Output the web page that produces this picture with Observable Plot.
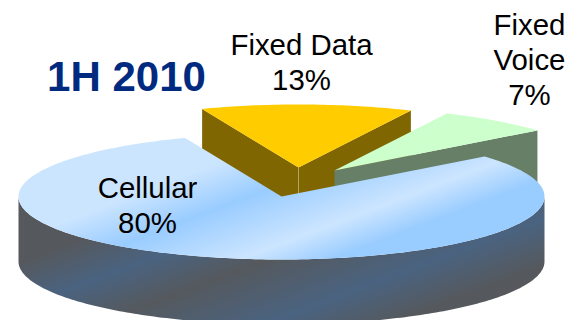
<!DOCTYPE html>
<html>
<head>
<meta charset="utf-8">
<style>
  html, body { margin: 0; padding: 0; background: #fff; overflow: hidden; }
  svg { display: block; }
</style>
<script src="https://cdn.jsdelivr.net/npm/d3@7"></script>
<script src="https://cdn.jsdelivr.net/npm/@observablehq/plot@0.6"></script>
</head>
<body>
<div id="chart"></div>
<script>
// Revenue mix for the first half of 2010
const period = "1H 2010";
const segments = ["Fixed Data", "Fixed Voice", "Cellular"];
const shares = [13, 7, 80];
const labelLines = ["Fixed Data", "Fixed\nVoice", "Cellular"];

// Pie drawing parameters, in units of the tilted disc's radii
const width = 567, height = 320;
const centerX = 281, centerY = 196, radiusX = 263, radiusY = 63;
const startAngle = -21.5;
const depth = 65 / radiusY;
const explode = [[17 / radiusX, 29 / radiusY], [53 / radiusX, 26 / radiusY], [0, 0]];
const topFill = ["#ffcc00", "#ccffcc", "url(#discTop)"];
const wallFill = ["#806600", "#667f66", "url(#discWall)"];

const unitX = (px) => (px - centerX) / radiusX;
const unitY = (py) => (centerY - py) / radiusY;

// Turn the shares into angular spans running clockwise from the start angle
let cursor = startAngle;
const slices = segments.map((name, i) => {
  const a0 = cursor;
  const a1 = cursor + shares[i] * 3.6;
  cursor = a1;
  return {name, a0, a1, ox: explode[i][0], oy: explode[i][1]};
});

const rim = (s, a) => ({
  x: s.ox + Math.sin(a * Math.PI / 180),
  y: s.oy + Math.cos(a * Math.PI / 180)
});
const hub = (s) => ({x: s.ox, y: s.oy});
const sunk = (p) => ({x: p.x, y: p.y - depth});
const arc = (s, a0, a1) => d3.range(a0, a1, 1).concat([a1]).map((a) => rim(s, a));

const wedge = (s) => [hub(s), ...arc(s, s.a0, s.a1)];
const cutWall = (s, a) => [hub(s), rim(s, a), sunk(rim(s, a)), sunk(hub(s))];
const frontWall = (s) => {
  const edge = arc(s, 90, 270);
  return [...edge, ...edge.slice().reverse().map(sunk)];
};

const shape = (points, fill) => Plot.line(points, {x: "x", y: "y", fill, stroke: "none"});

// Linear gradients for the large disc, banded along the same diagonal
const bandDir = [0.355, 0.935];
const gradient = (defs, id, length, stops) => {
  const g = defs.append("linearGradient")
    .attr("id", id)
    .attr("gradientUnits", "userSpaceOnUse")
    .attr("x1", 0).attr("y1", 0)
    .attr("x2", bandDir[0] * length).attr("y2", bandDir[1] * length);
  stops.forEach(([offset, color]) =>
    g.append("stop").attr("offset", offset).attr("stop-color", color));
};
const gradients = () => {
  const defs = d3.create("svg:defs");
  const pale = "#cce5ff", sky = "#99ccff", slate = "#55595e", steel = "#4a6380";
  gradient(defs, "discTop", 400, [[0.572, pale], [0.678, sky], [0.818, pale], [0.9, sky]]);
  gradient(defs, "discWall", 500, [[0.505, slate], [0.589, steel], [0.673, slate], [0.794, steel], [0.879, slate]]);
  return defs.node();
};

const [data, voice, cellular] = slices;
const labelSpots = [[301, 29.5], [529, 9.5], [147, 173]];

const font = {fontFamily: "'Liberation Sans', Arial, sans-serif", fill: "#000", fontSize: 29.4, lineHeight: 1.19};

const plot = Plot.plot({
  width, height,
  margin: 0,
  x: {axis: null, domain: [unitX(0), unitX(width)], range: [0, width]},
  y: {axis: null, domain: [unitY(0), unitY(height)], range: [0, height]},
  marks: [
    gradients,
    // Fixed Data: both cut faces, the corner seam, then the top
    shape(cutWall(data, data.a0), wallFill[0]),
    shape(cutWall(data, data.a1), wallFill[0]),
    Plot.line([hub(data), sunk(hub(data))], {x: "x", y: "y", stroke: "#b3a366", strokeWidth: 1}),
    shape(wedge(data), topFill[0]),
    // Fixed Voice: visible cut face, then the top
    shape(cutWall(voice, voice.a1), wallFill[1]),
    shape(wedge(voice), topFill[1]),
    // Cellular: front rim, then the top
    shape(frontWall(cellular), wallFill[2]),
    shape(wedge(cellular), topFill[2]),
    // Slice labels
    Plot.text(slices.map((s, i) => ({
      x: unitX(labelSpots[i][0]),
      y: unitY(labelSpots[i][1]),
      text: `${labelLines[i]}\n${shares[i]}%`
    })), {x: "x", y: "y", text: "text", lineAnchor: "top", ...font}),
    // Period heading
    Plot.text([period], {
      x: unitX(126), y: unitY(77), text: (d) => d,
      fontFamily: font.fontFamily, fontSize: 42, fontWeight: 700, fill: "#002a80"
    })
  ]
});
document.getElementById("chart").append(plot);
</script>
</body>
</html>
